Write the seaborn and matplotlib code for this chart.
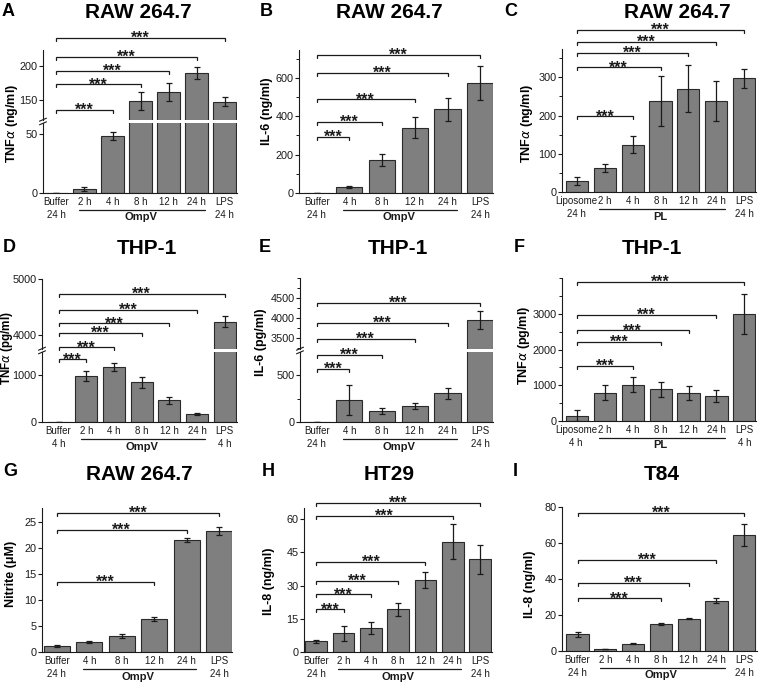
import numpy as np
import pandas as pd
import matplotlib
matplotlib.use("Agg")
import matplotlib.pyplot as plt
import matplotlib.transforms as mtransforms
from matplotlib.lines import Line2D
from matplotlib.ticker import MultipleLocator, FixedLocator
import seaborn as sns

sns.set_theme(style="ticks")
plt.rcParams['font.family'] = ['Liberation Sans', 'DejaVu Sans']

# ---------------- data ----------------
cats_A = ["Buffer\n24 h", "2 h", "4 h", "8 h", "12 h", "24 h", "LPS\n24 h"]
vals_A = [0, 3.2, 48.5, 149, 162, 190, 147.5]
errs_A = [0, 1.5, 3.3, 13, 13, 9, 7]

cats_B = ["Buffer\n24 h", "4 h", "8 h", "12 h", "24 h", "LPS\n24 h"]
vals_B = [0, 31, 172, 340, 436, 572]
errs_B = [0, 4, 32, 55, 60, 88]

cats_C = ["Liposome\n24 h", "2 h", "4 h", "8 h", "12 h", "24 h", "LPS\n24 h"]
vals_C = [29, 63, 124, 238, 270, 238, 297]
errs_C = [10, 10, 22, 65, 62, 52, 25]

cats_D = ["Buffer\n4 h", "2 h", "4 h", "8 h", "12 h", "24 h", "LPS\n4 h"]
vals_D = [0, 985, 1180, 845, 465, 170, 4235]
errs_D = [0, 110, 85, 115, 75, 30, 100]

cats_E = ["Buffer\n24 h", "4 h", "8 h", "12 h", "24 h", "LPS\n24 h"]
vals_E = [0, 232, 118, 168, 304, 3958]
errs_E = [0, 160, 30, 30, 55, 220]

cats_F = ["Liposome\n4 h", "2 h", "4 h", "8 h", "12 h", "24 h", "LPS\n4 h"]
vals_F = [150, 790, 1010, 890, 780, 700, 2990]
errs_F = [160, 210, 210, 210, 190, 170, 570]

cats_G = ["Buffer\n24 h", "4 h", "8 h", "12 h", "24 h", "LPS\n24 h"]
vals_G = [1.1, 1.9, 3.0, 6.3, 21.5, 23.2]
errs_G = [0.15, 0.15, 0.4, 0.45, 0.35, 0.7]

cats_H = ["Buffer\n24 h", "2 h", "4 h", "8 h", "12 h", "24 h", "LPS\n24 h"]
vals_H = [4.9, 8.5, 11.0, 19.2, 32.5, 49.8, 41.8]
errs_H = [0.7, 3.4, 2.7, 2.9, 3.8, 7.9, 6.6]

cats_I = ["Buffer\n24 h", "2 h", "4 h", "8 h", "12 h", "24 h", "LPS\n24 h"]
vals_I = [9.3, 1.0, 4.1, 15.0, 17.9, 28.0, 64.5]
errs_I = [1.3, 0.1, 0.3, 0.6, 0.3, 1.2, 6.2]

# significance brackets: (target category index, bracket height)
sig_A = [(2, 136), (3, 173), (4, 193), (5, 213), (6, 241)]
sig_B = [(1, 293), (2, 371), (3, 488), (4, 628), (5, 720)]
sig_C = [(2, 198), (3, 326), (4, 364), (5, 392), (6, 425)]
sig_D_low = [(1, 1334)]
sig_D = [(2, 3779), (3, 4030), (4, 4205), (5, 4449), (6, 4736)]
sig_E_low = [(1, 564), (2, 714)]
sig_E = [(3, 3475), (4, 3875), (5, 4375)]
sig_F = [(2, 1532), (3, 2210), (4, 2535), (5, 2971), (6, 3881)]
sig_G = [(3, 13.5), (4, 23.4), (5, 26.6)]
sig_H = [(1, 19.2), (2, 26.0), (3, 32.2), (4, 40.8), (5, 61.6), (6, 67.2)]
sig_I = [(3, 29.2), (4, 38.0), (5, 50.4), (6, 76.8)]

# ---------------- styling ----------------
W, H = 760, 684
BAR = "#7f7f7f"
EDGE = "#2a2a2a"
INK = "#1a1a1a"
XFS = 7.0

fig = plt.figure(figsize=(W / 100, H / 100), dpi=100)


def make_axes(l, t, r, b):
    ax = fig.add_axes([l / W, 1 - b / H, (r - l) / W, (b - t) / H])
    ax.set_facecolor("none")
    for s in ["top", "right"]:
        ax.spines[s].set_visible(False)
    for s in ["left", "bottom"]:
        ax.spines[s].set_linewidth(0.8)
        ax.spines[s].set_color(INK)
    ax.tick_params(axis="y", which="major", length=3.2, width=0.8, labelsize=7.8,
                   pad=0.7, colors=INK)
    ax.tick_params(axis="y", which="minor", length=2, width=0.7, colors=INK)
    ax.tick_params(axis="x", length=0, labelsize=XFS, pad=3.0, colors=INK)
    ax.set_xlabel("")
    ax.set_ylabel("")
    return ax


def bars(ax, cats, vals, errs):
    df = pd.DataFrame({"cat": cats, "val": vals})
    sns.barplot(data=df, x="cat", y="val", order=cats, ax=ax, color=BAR,
                edgecolor=EDGE, linewidth=0.8, width=0.8, saturation=1,
                errorbar=None)
    pos = np.arange(len(cats))
    ax.errorbar(pos, vals, yerr=errs, fmt="none", ecolor=INK, elinewidth=0.9,
                capsize=2, capthick=0.9)
    ax.set_xlabel("")
    ax.set_ylabel("")


def bracket(ax, i0, i1, y):
    y0, y1 = ax.get_ylim()
    hpx = ax.get_position().height * H
    d = 3.0 * (y1 - y0) / hpx
    ax.plot([i0, i0, i1, i1], [y - d, y, y, y - d], color=INK, lw=0.9,
            clip_on=False, solid_joinstyle="miter")
    ax.annotate("***", xy=((i0 + i1) / 2, y), xytext=(0, -3.6),
                textcoords="offset points", ha="center", va="baseline",
                fontsize=11.5, fontweight="bold", color=INK,
                annotation_clip=False)


def xlabels(ax, cats, i0, i1, group):
    ax.set_xticks(range(len(cats)))
    ax.set_xticklabels(cats, fontsize=XFS, linespacing=1.4)
    first = ax.get_xticklabels()[0]
    if first.get_text().startswith("Liposome"):
        first.set_transform(first.get_transform() +
                            mtransforms.ScaledTranslation(-0.01, 0, fig.dpi_scale_trans))
    tr = mtransforms.blended_transform_factory(ax.transData, ax.transAxes)
    tl = tr + mtransforms.ScaledTranslation(0, -0.17, fig.dpi_scale_trans)
    ax.add_line(Line2D([i0 - 0.2, i1 + 0.3], [0, 0], transform=tl, color=INK,
                       lw=0.9, clip_on=False))
    tt = tr + mtransforms.ScaledTranslation(0, -0.245, fig.dpi_scale_trans)
    ax.text((i0 + i1) / 2, 0, group, transform=tt, ha="center", va="center",
            fontsize=8, fontweight="bold", color=INK)


def break_mark(x, y):
    for dy in (-1.8, 1.8):
        fig.add_artist(Line2D([(x - 3.5) / W, (x + 3.5) / W],
                              [1 - (y + dy + 1.5) / H, 1 - (y + dy - 1.5) / H],
                              color=INK, lw=0.8))


def header(letter, lx, ly, title, tx, ty, ylabel, yx, yy, ysize=9.0):
    fig.text(lx / W, 1 - ly / H, letter, ha="center", va="center",
             fontsize=13, fontweight="bold", color="black")
    fig.text(tx / W, 1 - ty / H, title, ha="center", va="center",
             fontsize=15, fontweight="bold", color="black")
    fig.text(yx / W, 1 - yy / H, ylabel, ha="center", va="center",
             rotation=90, fontsize=ysize, fontweight="bold", color="black")


def simple_panel(rect, cats, vals, errs, ylim, xlim, ticks, minor, sig, group):
    ax = make_axes(*rect)
    bars(ax, cats, vals, errs)
    ax.set_ylim(*ylim)
    ax.set_xlim(*xlim)
    ax.yaxis.set_major_locator(FixedLocator(ticks))
    if minor:
        ax.yaxis.set_minor_locator(MultipleLocator(minor))
    for i, y in sig:
        bracket(ax, 0, i, y)
    xlabels(ax, cats, 1, len(cats) - 2, group)
    return ax


def broken_panel(l, r, t_up, b_up, t_lo, b_lo, cats, vals, errs, ylim_lo,
                 ylim_up, xlim, ticks_lo, ticks_up, minor, sig_lo, sig_up, group):
    lo = make_axes(l, t_lo, r, b_lo)
    up = make_axes(l, t_up, r, b_up)
    for ax, yl, tk in ((lo, ylim_lo, ticks_lo), (up, ylim_up, ticks_up)):
        bars(ax, cats, vals, errs)
        ax.set_ylim(*yl)
        ax.set_xlim(*xlim)
        ax.yaxis.set_major_locator(FixedLocator(tk))
        if minor:
            ax.yaxis.set_minor_locator(MultipleLocator(minor))
    up.spines["bottom"].set_visible(False)
    up.tick_params(axis="x", which="both", bottom=False, labelbottom=False)
    for i, y in sig_lo:
        bracket(lo, 0, i, y)
    for i, y in sig_up:
        bracket(up, 0, i, y)
    xlabels(lo, cats, 1, len(cats) - 2, group)
    break_mark(l, (b_up + t_lo) / 2)
    return lo, up


# ---------- Row 1 ----------
broken_panel(43, 237, 50, 120, 123, 193, cats_A, vals_A, errs_A, (0, 59.6),
             (120.6, 223.5), (-0.48, 6.44), [0, 50], [150, 200], None, [],
             sig_A, "OmpV")
header("A", 8, 11, "RAW 264.7", 138, 12, r"TNF$\alpha$ (ng/ml)", 12, 123)

simple_panel((299, 50, 493, 193), cats_B, vals_B, errs_B, (0, 746),
             (-0.54, 5.39), [0, 200, 400, 600], 100, sig_B, "OmpV")
header("B", 266, 11, "RAW 264.7", 389, 12, "IL-6 (ng/ml)", 267, 111)

simple_panel((562, 49, 756, 192), cats_C, vals_C, errs_C, (0, 374),
             (-0.54, 6.43), [0, 100, 200, 300], 50, sig_C, "PL")
header("C", 511, 11, "RAW 264.7", 677, 12, r"TNF$\alpha$ (ng/ml)", 527, 123)

# ---------- Row 2 ----------
broken_panel(42, 237, 279, 349, 352, 422, cats_D, vals_D, errs_D, (0, 1489),
             (3749, 5000), (-0.6, 6.44), [0, 1000], [4000, 5000], None,
             sig_D_low, sig_D, "OmpV")
header("D", 9, 247, "THP-1", 147, 249, r"TNF$\alpha$ (pg/ml)", 6.8, 348, ysize=8.4)

broken_panel(300, 493, 278, 349, 352, 422, cats_E, vals_E, errs_E, (0, 746),
             (3230, 5000), (-0.51, 5.39), [0, 500], [3500, 4000, 4500], 250,
             sig_E_low, sig_E, "OmpV")
header("E", 265, 247, "THP-1", 398, 249, "IL-6 (pg/ml)", 261, 342)

simple_panel((562, 278, 756, 421), cats_F, vals_F, errs_F, (0, 4000),
             (-0.54, 6.42), [0, 1000, 2000, 3000], 500, sig_F, "PL")
header("F", 519, 247, "THP-1", 652, 249, r"TNF$\alpha$ (pg/ml)", 524, 345)

# ---------- Row 3 ----------
simple_panel((42, 508, 232, 652), cats_G, vals_G, errs_G, (0, 27.6),
             (-0.46, 5.4), [0, 5, 10, 15, 20, 25], None, sig_G, "OmpV")
header("G", 10, 472, "RAW 264.7", 139, 474, "Nitrite (μM)", 11, 574)

simple_panel((304, 508, 492, 652), cats_H, vals_H, errs_H, (0, 65),
             (-0.45, 6.44), [0, 15, 30, 45, 60], None, sig_H, "OmpV")
header("H", 268, 472, "HT29", 389, 474, "IL-8 (ng/ml)", 269, 581)

simple_panel((562, 507, 757, 651), cats_I, vals_I, errs_I, (0, 80),
             (-0.56, 6.46), [0, 20, 40, 60, 80], None, sig_I, "OmpV")
header("I", 515, 472, "T84", 662, 474, "IL-8 (ng/ml)", 530, 584)

fig.savefig("out.png", dpi=100, facecolor="white")
